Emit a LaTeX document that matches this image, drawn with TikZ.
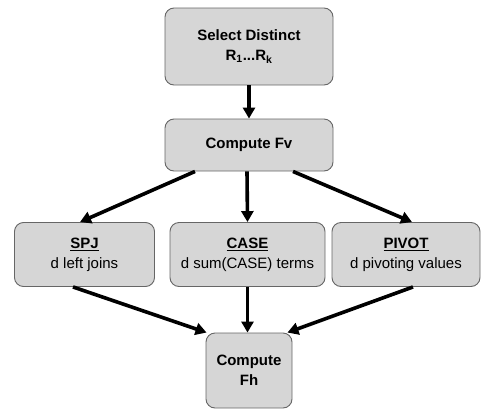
\documentclass[tikz,border=0pt]{standalone}
\usepackage{fontspec}
\setmainfont{Liberation Sans}
\usetikzlibrary{arrows.meta}
\begin{document}
\begin{tikzpicture}[x=1pt,y=-1pt,
  box/.style={draw=gray!80!black,fill=black!16,rounded corners=9pt,line width=0.9pt,align=center,inner sep=0pt},
  arr/.style={line width=3.6pt,-{Triangle[length=11pt,width=12pt]}}]
\useasboundingbox (0,0) rectangle (482,410);
\node[box,minimum width=168pt,minimum height=77pt,font=\bfseries\fontsize{15}{20}\selectfont] (sel) at (249,46.5) {Select Distinct\\R\textsubscript{1}...R\textsubscript{k}};
\node[box,minimum width=168pt,minimum height=52pt,font=\bfseries\fontsize{15}{19}\selectfont] (fv) at (249,145) {Compute Fv};
\node[box,minimum width=140pt,minimum height=64pt,font=\fontsize{15}{20}\selectfont] (spj) at (84.5,254.5) {\textbf{\underline{SPJ}}\\d left joins};
\node[box,minimum width=155pt,minimum height=64pt,font=\fontsize{15}{20}\selectfont] (case) at (247.5,254.5) {\textbf{\underline{CASE}}\\d sum(CASE) terms};
\node[box,minimum width=148pt,minimum height=64pt,font=\fontsize{15}{20}\selectfont] (pivot) at (406,254.5) {\textbf{\underline{PIVOT}}\\d pivoting values};
\node[box,minimum width=86pt,minimum height=75pt,font=\bfseries\fontsize{15}{20}\selectfont] (fh) at (249,370.5) {Compute\\Fh};
\draw[arr] (sel.south) -- (fv.north);
\draw[arr] ([xshift=-54pt]fv.south) -- ([xshift=-4.5pt]spj.north);
\draw[arr] ([xshift=-2pt]fv.south) -- (case.north);
\draw[arr] ([xshift=44pt]fv.south) -- ([xshift=6pt]pivot.north);
\draw[arr] ([xshift=-11.5pt]spj.south) -- ([xshift=1pt]fh.north west);
\draw[arr] (case.south) -- ([xshift=-1.5pt]fh.north);
\draw[arr] ([xshift=7pt]pivot.south) -- ([xshift=-5pt]fh.north east);
\end{tikzpicture}
\end{document}
